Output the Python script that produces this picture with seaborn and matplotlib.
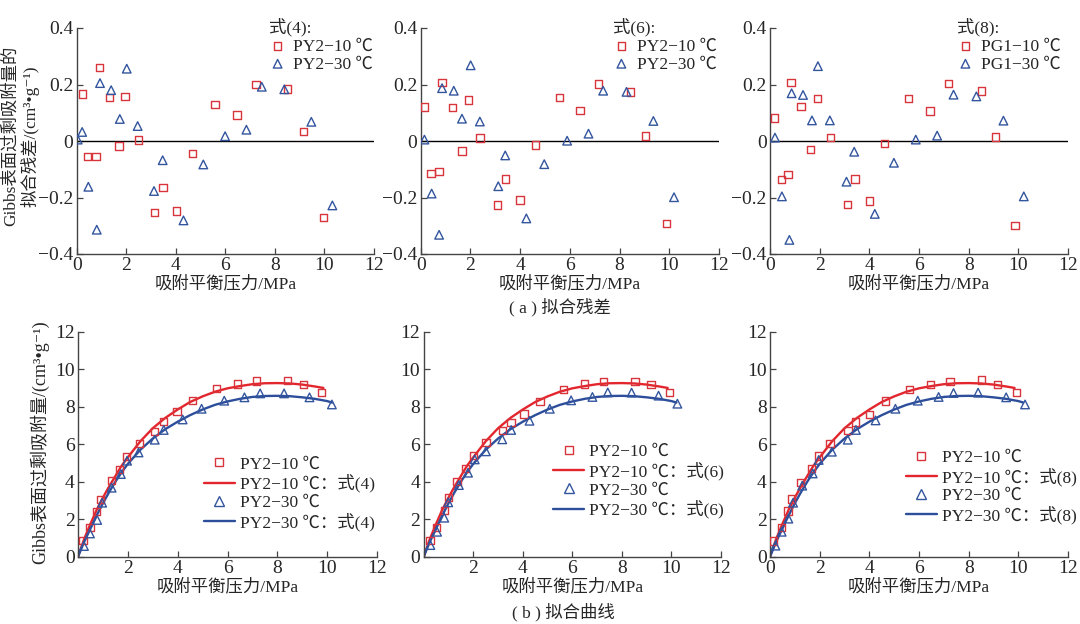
import numpy as np
import pandas as pd
import seaborn as sns
import matplotlib.pyplot as plt
from matplotlib.ticker import FuncFormatter

# --- residuals, 式(4) ---
res4_p10 = [0.23, 0.43, 0.78, 0.92, 1.33, 1.71, 1.95, 2.49, 3.15, 3.48, 4.04, 4.67, 5.58, 6.47, 7.24, 8.50, 9.16, 9.96]
res4_r10 = [0.166, -0.054, -0.054, 0.261, 0.155, -0.018, 0.157, 0.003, -0.254, -0.164, -0.248, -0.044, 0.129, 0.092, 0.199, 0.184, 0.033, -0.271]
res4_p30 = [0.04, 0.22, 0.47, 0.81, 0.94, 1.39, 1.74, 2.02, 2.46, 3.12, 3.47, 4.31, 5.11, 5.99, 6.85, 7.47, 8.38, 9.47, 10.32]
res4_r30 = [0.005, 0.032, -0.162, -0.314, 0.205, 0.180, 0.078, 0.256, 0.053, -0.177, -0.068, -0.281, -0.083, 0.017, 0.040, 0.192, 0.183, 0.068, -0.228]

# --- residuals, 式(6) ---
res6_p10 = [0.16, 0.42, 0.74, 0.86, 1.29, 1.66, 1.93, 2.38, 3.09, 3.42, 3.99, 4.61, 5.58, 6.41, 7.16, 8.45, 9.04, 9.90]
res6_r10 = [0.120, -0.115, -0.108, 0.206, 0.119, -0.036, 0.145, 0.011, -0.226, -0.135, -0.209, -0.014, 0.154, 0.107, 0.202, 0.174, 0.018, -0.292]
res6_p30 = [0.15, 0.44, 0.74, 0.86, 1.33, 1.66, 2.01, 2.38, 3.12, 3.40, 4.25, 4.97, 5.89, 6.75, 7.34, 8.28, 9.36, 10.19]
res6_r30 = [0.005, -0.186, -0.332, 0.187, 0.178, 0.079, 0.268, 0.069, -0.160, -0.051, -0.274, -0.082, 0.001, 0.026, 0.178, 0.174, 0.071, -0.199]

# --- residuals, 式(8) ---
res8_p10 = [0.17, 0.46, 0.72, 0.84, 1.25, 1.64, 1.90, 2.43, 3.11, 3.42, 4.00, 4.60, 5.59, 6.44, 7.19, 8.51, 9.09, 9.87]
res8_r10 = [0.082, -0.137, -0.119, 0.206, 0.122, -0.030, 0.151, 0.012, -0.225, -0.135, -0.213, -0.009, 0.150, 0.106, 0.204, 0.177, 0.014, -0.298]
res8_p30 = [0.20, 0.48, 0.78, 0.87, 1.33, 1.69, 1.93, 2.41, 3.08, 3.39, 4.22, 4.99, 5.87, 6.73, 7.39, 8.31, 9.40, 10.22]
res8_r30 = [0.012, -0.196, -0.350, 0.169, 0.163, 0.073, 0.265, 0.073, -0.144, -0.038, -0.258, -0.077, 0.005, 0.019, 0.164, 0.158, 0.072, -0.196]

# --- measured excess adsorption (bottom row) ---
ads4_p10 = [0.20, 0.48, 0.75, 0.91, 1.35, 1.67, 1.95, 2.47, 3.07, 3.43, 3.97, 4.60, 5.55, 6.40, 7.17, 8.41, 9.04, 9.76]
ads4_v10 = [0.85, 1.55, 2.40, 3.06, 4.05, 4.66, 5.33, 6.03, 6.67, 7.20, 7.73, 8.34, 8.96, 9.21, 9.37, 9.39, 9.19, 8.76]
ads4_p30 = [0.24, 0.48, 0.77, 0.97, 1.35, 1.72, 1.97, 2.43, 3.08, 3.44, 4.20, 4.96, 5.87, 6.68, 7.31, 8.27, 9.29, 10.19]
ads4_v30 = [0.57, 1.24, 1.96, 2.88, 3.68, 4.41, 5.12, 5.56, 6.24, 6.76, 7.32, 7.89, 8.32, 8.50, 8.71, 8.71, 8.50, 8.12]

ads6_p10 = [0.26, 0.51, 0.83, 0.99, 1.34, 1.68, 2.00, 2.51, 3.19, 3.52, 4.05, 4.69, 5.65, 6.50, 7.27, 8.53, 9.17, 9.93]
ads6_v10 = [0.85, 1.56, 2.45, 3.15, 4.02, 4.69, 5.39, 6.08, 6.72, 7.16, 7.61, 8.28, 8.92, 9.21, 9.35, 9.35, 9.19, 8.75]
ads6_p30 = [0.27, 0.54, 0.83, 0.99, 1.42, 1.79, 2.06, 2.51, 3.17, 3.53, 4.27, 5.09, 5.95, 6.81, 7.43, 8.39, 9.48, 10.24]
ads6_v30 = [0.62, 1.33, 2.08, 2.90, 3.82, 4.48, 5.19, 5.62, 6.26, 6.76, 7.25, 7.89, 8.34, 8.52, 8.76, 8.75, 8.59, 8.16]

ads8_p10 = [0.15, 0.46, 0.73, 0.87, 1.24, 1.68, 1.95, 2.41, 3.14, 3.45, 4.01, 4.64, 5.62, 6.45, 7.25, 8.52, 9.15, 9.92]
ads8_v10 = [0.84, 1.56, 2.44, 3.08, 3.95, 4.71, 5.37, 6.04, 6.72, 7.18, 7.59, 8.30, 8.92, 9.17, 9.33, 9.42, 9.17, 8.75]
ads8_p30 = [0.22, 0.47, 0.74, 0.93, 1.30, 1.72, 1.96, 2.49, 3.13, 3.46, 4.25, 5.05, 5.95, 6.79, 7.39, 8.38, 9.51, 10.27]
ads8_v30 = [0.59, 1.33, 2.03, 2.88, 3.79, 4.44, 5.16, 5.60, 6.24, 6.76, 7.27, 7.89, 8.32, 8.52, 8.73, 8.75, 8.50, 8.12]

# --- fitted curves (same within reading precision for all three eqs) ---
fit_p10 = [0, 0.25, 0.5, 0.75, 1.0, 1.25, 1.5, 1.75, 2.0, 2.5, 3.0, 3.5, 4.0, 4.5, 5.0,
           5.5, 6.0, 6.5, 7.0, 7.5, 8.0, 8.5, 9.0, 9.5, 9.85]
fit_v10 = [0, 0.95, 1.75, 2.5, 3.15, 3.75, 4.3, 4.85, 5.3, 6.15, 6.85, 7.4, 7.85, 8.25, 8.55,
           8.8, 8.98, 9.1, 9.2, 9.25, 9.26, 9.24, 9.18, 9.08, 9.0]
fit_p30 = [0, 0.25, 0.5, 0.75, 1.0, 1.25, 1.5, 1.75, 2.0, 2.5, 3.0, 3.5, 4.0, 4.5, 5.0,
           5.5, 6.0, 6.5, 7.0, 7.5, 8.0, 8.5, 9.0, 9.5, 10.0, 10.2]
fit_v30 = [0, 0.8, 1.5, 2.2, 2.85, 3.45, 4.0, 4.5, 4.95, 5.7, 6.3, 6.8, 7.2, 7.55, 7.85,
           8.1, 8.28, 8.42, 8.52, 8.57, 8.58, 8.56, 8.5, 8.42, 8.3, 8.22]

eq_names = ['式(4)', '式(6)', '式(8)']
top_series = ['PY2', 'PY2', 'PG1']

RED_PT = '#d8343c'
BLUE_PT = '#33559e'
RED_LN = '#e3262d'
BLUE_LN = '#2c4e9b'
FS = 12.5
TICK_FS = 14

sns.set_theme(style='ticks')
plt.rcParams['font.family'] = ['Liberation Serif', 'Noto Sans CJK SC', 'DejaVu Serif']
plt.rcParams['axes.unicode_minus'] = True

fig = plt.figure(figsize=(10.8, 6.24), dpi=100)
W, H = 1080, 624


def px_axes(x0, x1, ytop, ybot):
    return fig.add_axes([x0 / W, 1 - ybot / H, (x1 - x0) / W, (ybot - ytop) / H])


def style(ax):
    sns.despine(ax=ax)
    for s in ['left', 'bottom']:
        ax.spines[s].set_color('#444444')
        ax.spines[s].set_linewidth(1.0)
    ax.tick_params(direction='in', length=4, width=0.9, color='#444444',
                   labelsize=TICK_FS, pad=2.5)
    ax.set_xlim(0, 12)
    ax.set_xticks(range(0, 13, 2))
    ax.set_xlabel('吸附平衡压力/MPa', fontsize=FS, labelpad=1)
    ax.set_ylabel('')


def sq(ax, x, y, label=None):
    sns.scatterplot(x=x, y=y, marker='s', s=28, facecolor='none', edgecolor=RED_PT,
                    linewidth=1.0, ax=ax, label=label, zorder=3)


def tri(ax, x, y, label=None):
    sns.scatterplot(x=x, y=y, marker='^', s=38, facecolor='none', edgecolor=BLUE_PT,
                    linewidth=1.0, ax=ax, label=label, zorder=3)


top_data = [(res4_p10, res4_r10, res4_p30, res4_r30),
            (res6_p10, res6_r10, res6_p30, res6_r30),
            (res8_p10, res8_r10, res8_p30, res8_r30)]
top_pos = [(76.7, 374), (420.7, 719), (770, 1068)]
leg_x = [0.635, 0.632, 0.615]

fmt = FuncFormatter(lambda v, p: '0' if abs(v) < 1e-9 else f'{v:.1f}'.replace('-', '\u2212'))

for i in range(3):
    ax = px_axes(top_pos[i][0], top_pos[i][1], 28, 254)
    p10, r10, p30, r30 = top_data[i]
    ax.axhline(0, color='black', lw=1.0, zorder=1)
    sq(ax, p10, r10, f'{top_series[i]}\u221210 \u2103')
    tri(ax, p30, r30, f'{top_series[i]}\u221230 \u2103')
    style(ax)
    ax.set_ylim(-0.4, 0.4)
    ax.set_yticks([-0.4, -0.2, 0, 0.2, 0.4])
    ax.yaxis.set_major_formatter(fmt)
    ax.legend(title=eq_names[i] + ':', loc='upper left', bbox_to_anchor=(leg_x[i], 1.06),
              frameon=False, alignment='left', handlelength=1.0, handletextpad=0.4,
              labelspacing=0.1, borderaxespad=0, borderpad=0.2,
              fontsize=FS, title_fontsize=FS)

bot_data = [(ads4_p10, ads4_v10, ads4_p30, ads4_v30),
            (ads6_p10, ads6_v10, ads6_p30, ads6_v30),
            (ads8_p10, ads8_v10, ads8_p30, ads8_v30)]
bot_pos = [(78, 377), (423.7, 721), (770, 1068)]
bot_leg = [(0.42, 0.28), (0.435, 0.335), (0.455, 0.31)]

for i in range(3):
    ax = px_axes(bot_pos[i][0], bot_pos[i][1], 331.7, 556.7)
    p10, v10, p30, v30 = bot_data[i]
    sq(ax, p10, v10)
    sns.lineplot(x=fit_p10, y=fit_v10, color=RED_LN, lw=1.7, ax=ax, estimator=None, sort=False)
    tri(ax, p30, v30)
    sns.lineplot(x=fit_p30, y=fit_v30, color=BLUE_LN, lw=1.7, ax=ax, estimator=None, sort=False)
    style(ax)
    ax.set_ylim(0, 12)
    ax.set_yticks(range(0, 13, 2))
    if i < 2:
        ax.set_xticklabels([''] + [str(v) for v in range(2, 13, 2)])
    h = [plt.Line2D([], [], ls='none', marker='s', ms=5.5, mfc='none', mec=RED_PT, mew=1.0),
         plt.Line2D([], [], color=RED_LN, lw=1.7),
         plt.Line2D([], [], ls='none', marker='^', ms=6.5, mfc='none', mec=BLUE_PT, mew=1.0),
         plt.Line2D([], [], color=BLUE_LN, lw=1.7)]
    labels = ['PY2\u221210 \u2103', f'PY2\u221210 \u2103：{eq_names[i]}',
              'PY2\u221230 \u2103', f'PY2\u221230 \u2103：{eq_names[i]}']
    ax.legend(h, labels, loc='center left', bbox_to_anchor=bot_leg[i], frameon=False,
              handlelength=1.8, handletextpad=0.3, labelspacing=0.1, borderaxespad=0,
              borderpad=0, fontsize=FS)

fig.text(21 / W, 1 - 136 / H, 'Gibbs表面过剩吸附量的\n拟合残差/(cm³•g⁻¹)', rotation=90,
         ha='center', va='center', multialignment='center', fontsize=12.5, linespacing=1.1)
fig.text(40 / W, 1 - 442 / H, 'Gibbs表面过剩吸附量/(cm³•g⁻¹)', rotation=90,
         ha='center', va='center', fontsize=13)
fig.text(560 / W, 1 - 307 / H, '( a ) 拟合残差', ha='center', va='center', fontsize=FS)
fig.text(563 / W, 1 - 612 / H, '( b ) 拟合曲线', ha='center', va='center', fontsize=FS)

fig.savefig('out.png', dpi=100)
